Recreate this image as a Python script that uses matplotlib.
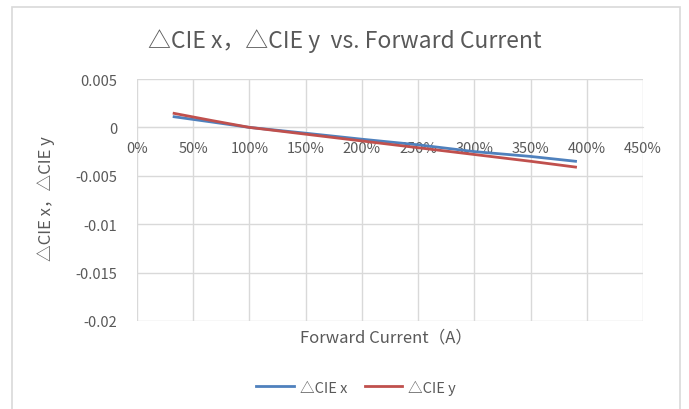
import matplotlib.pyplot as plt
from matplotlib.ticker import FuncFormatter, MultipleLocator

plt.rcParams['font.family'] = ['Noto Sans CJK SC', 'DejaVu Sans']
plt.rcParams['axes.unicode_minus'] = False

# relative forward current (1.0 = 100%)
current = [0.33, 0.67, 1.0, 1.5, 2.0, 2.5, 3.0, 3.5, 3.9]
d_cie_x = [0.0011, 0.00055, 0.0, -0.0006, -0.00122, -0.0018, -0.0025, -0.003, -0.0035]
d_cie_y = [0.00145, 0.0007, 0.0, -0.0007, -0.0014, -0.0021, -0.0028, -0.0035, -0.0041]

grey = '#595959'
grid = '#D9D9D9'

fig = plt.figure(figsize=(6.89, 4.10), dpi=100)
ax = fig.add_axes([137/689, 1-322/410, (643-137)/689, (322-80)/410])

# outer chart border
fig.add_artist(plt.Rectangle((12/689, -0.1), (680-12)/689, 1.1-8/410,
                             transform=fig.transFigure, fill=False,
                             edgecolor='#D9D9D9', linewidth=1.2))

ax.plot(current, d_cie_x, color='#4F81BD', linewidth=2.0, label='△CIE x')
ax.plot(current, d_cie_y, color='#C0504D', linewidth=2.0, label='△CIE y')

ax.set_xlim(0, 4.5)
ax.set_ylim(-0.02, 0.005)
ax.xaxis.set_major_locator(MultipleLocator(0.5))
ax.yaxis.set_major_locator(MultipleLocator(0.005))
ax.xaxis.set_major_formatter(FuncFormatter(lambda v, p: '%d%%' % round(v * 100)))
ax.yaxis.set_major_formatter(FuncFormatter(lambda v, p: '0' if abs(v) < 1e-12 else '%g' % v))

ax.grid(True, color=grid, linewidth=1)
ax.set_axisbelow(True)
for s in ['top', 'right', 'left']:
    ax.spines[s].set_visible(False)
ax.spines['bottom'].set_position(('data', 0))
ax.spines['bottom'].set_color(grid)
ax.spines['bottom'].set_zorder(0.5)
ax.tick_params(length=0, colors=grey, labelsize=10.5)
ax.tick_params(axis='x', pad=10)
ax.tick_params(axis='y', pad=14)

fig.text(0.5, 1-41/410, '△CIE x，△CIE y  vs. Forward Current',
         ha='center', va='center', fontsize=16.5, color=grey)
fig.text(386/689, 1-338/410, 'Forward Current（A）',
         ha='center', va='center', fontsize=12, color=grey)
fig.text(46/689, 1-199/410, '△CIE x，△CIE y', rotation=90,
         ha='center', va='center', fontsize=12, color=grey)

leg = fig.legend(loc='center', bbox_to_anchor=(356/689, 1-388/410), ncol=2,
                 frameon=False, fontsize=10.5, handlelength=2.6,
                 columnspacing=1.2, handletextpad=0.4)
for t in leg.get_texts():
    t.set_color(grey)

fig.savefig('out.png', dpi=100)
